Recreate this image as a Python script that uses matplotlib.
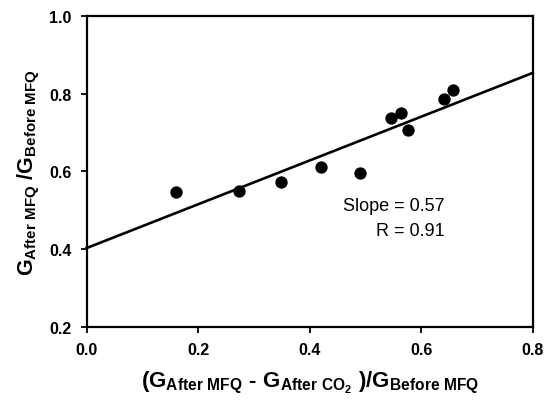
import matplotlib
matplotlib.use("Agg")
import matplotlib.pyplot as plt
import numpy as np

plt.rcParams['font.family'] = ['Liberation Sans', 'DejaVu Sans']
plt.rcParams['mathtext.fontset'] = 'custom'
plt.rcParams['mathtext.rm'] = 'Liberation Sans:bold'
plt.rcParams['mathtext.bf'] = 'Liberation Sans:bold'
plt.rcParams['mathtext.it'] = 'Liberation Sans:bold'

x_vals = [0.160, 0.274, 0.348, 0.421, 0.491, 0.546, 0.564, 0.577, 0.640, 0.657]
y_vals = [0.547, 0.549, 0.573, 0.610, 0.595, 0.736, 0.751, 0.707, 0.786, 0.808]
fit_intercept = 0.403
fit_slope = 0.5625
x_ticks = [0.0, 0.2, 0.4, 0.6, 0.8]
y_ticks = [0.2, 0.4, 0.6, 0.8, 1.0]

fig = plt.figure(figsize=(5.5, 4.02), dpi=100)
ax = fig.add_axes([0.1576, 0.184, 0.811, 0.7745])

xl = np.array([0.0, 0.8])
ax.plot(xl, fit_intercept + fit_slope * xl, color='black', lw=1.9, clip_on=False, zorder=2)
ax.scatter(x_vals, y_vals, s=62, color='black', zorder=3)

ax.set_xlim(0.0, 0.8)
ax.set_ylim(0.2, 1.0)
ax.set_xticks(x_ticks)
ax.set_yticks(y_ticks)
ax.set_xticklabels([f"{v:.1f}" for v in x_ticks], fontsize=11.5, fontweight='bold')
ax.set_yticklabels([f"{v:.1f}" for v in y_ticks], fontsize=11.5, fontweight='bold')
ax.tick_params(direction='out', length=4, width=1.3, pad=7)
for s in ax.spines.values():
    s.set_linewidth(1.6)

ax.set_xlabel(r'$\mathrm{(G_{After\ MFQ}\ \text{-}\ G_{After\ CO_2}\ )/G_{Before\ MFQ}}$', fontsize=16, labelpad=8)
ax.set_ylabel(r'$\mathrm{G_{After\ MFQ}\ /G_{Before\ MFQ}}$', fontsize=15.5, labelpad=5)

ax.text(0.642, 0.511, 'Slope = 0.57', ha='right', va='center', fontsize=13)
ax.text(0.642, 0.449, 'R = 0.91', ha='right', va='center', fontsize=13)

fig.savefig('out.png', dpi=100)
